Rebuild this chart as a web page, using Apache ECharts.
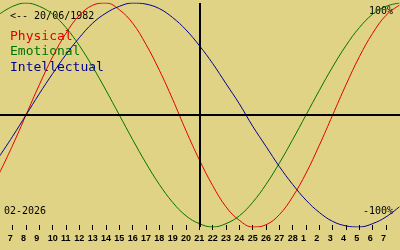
<!DOCTYPE html>
<html><head><meta charset="utf-8">
<script src="https://cdn.jsdelivr.net/npm/echarts@6/dist/echarts.min.js"></script>
<style>html,body{margin:0;padding:0;background:#e1d385}#c{width:400px;height:250px}</style>
</head><body><div id="c"></div>
<script>
// day index: 0 = 7 Feb 2026; series run from 6 Feb (-1) to 8 Mar (29)
const firstDay = -1;
const physical =     [-0.52,-0.27,0.00,0.27,0.52,0.73,0.89,0.98,1.00,0.94,0.82,0.63,0.40,0.14,-0.14,-0.40,-0.63,-0.82,-0.94,-1.00,-0.98,-0.89,-0.73,-0.52,-0.27,0.00,0.27,0.52,0.73,0.89,0.98];
const emotional =    [0.90,0.97,1.00,0.97,0.90,0.78,0.62,0.43,0.22,0.00,-0.22,-0.43,-0.62,-0.78,-0.90,-0.97,-1.00,-0.97,-0.90,-0.78,-0.62,-0.43,-0.22,0.00,0.22,0.43,0.62,0.78,0.90,0.97,1.00];
const intellectual = [-0.37,-0.19,0.00,0.19,0.37,0.54,0.69,0.82,0.91,0.97,1.00,0.99,0.95,0.87,0.76,0.62,0.46,0.28,0.10,-0.10,-0.28,-0.46,-0.62,-0.76,-0.87,-0.95,-0.99,-1.00,-0.97,-0.91,-0.82];
const tickLabels = ['7','8','9','10','11','12','13','14','15','16','17','18','19','20','21','22','23','24','25','26','27','28','1','2','3','4','5','6','7'];
const todayIndex = 14;
const birthText = '<-- 20/06/1982';
const monthText = '02-2026';
const legendNames = ['Physical','Emotional','Intellectual'];
const colors = ['#e00000','#007400','#000090'];

const tickValues = tickLabels.map((_, i) => i);
const toData = arr => arr.map((v, i) => [firstDay + i, v]);
const mono = '"DejaVu Sans Mono", monospace';

const chart = echarts.init(document.getElementById('c'), null, {renderer:'canvas'});
chart.setOption({
  backgroundColor: '#e1d385',
  animation: false,
  grid: {left: 0, right: 0, top: 3, bottom: 23},
  xAxis: [{
    type: 'value', min: -0.95, max: 29.05, offset: -2, position: 'bottom',
    axisLine: {show: false, onZero: false}, splitLine: {show: false},
    axisTick: {show: true, length: 5, customValues: tickValues, lineStyle: {color: '#000', width: 1}},
    axisLabel: {show: false}
  }, {
    type: 'value', min: -0.575, max: 29.425, position: 'bottom', offset: -2,
    axisLine: {show: false, onZero: false}, splitLine: {show: false}, axisTick: {show: false},
    axisLabel: {show: true, customValues: tickValues, align: 'left', verticalAlign: 'top', margin: 9,
      fontFamily: '"Liberation Sans", sans-serif', fontWeight: 'bold', fontSize: 9, color: '#000',
      formatter: v => tickLabels[Math.round(v)] || ''}
  }],
  yAxis: {type: 'value', min: -1, max: 1, show: false},
  series: [
    {name: legendNames[0], type: 'line', data: toData(physical), smooth: 0.4, symbol: 'none',
      lineStyle: {color: colors[0], width: 1},
      markLine: {silent: true, symbol: 'none', label: {show: false},
        lineStyle: {color: '#000', width: 2, type: 'solid'},
        data: [{yAxis: 0}, {xAxis: todayIndex}]}},
    {name: legendNames[1], type: 'line', data: toData(emotional), smooth: 0.4, symbol: 'none',
      lineStyle: {color: colors[1], width: 1}},
    {name: legendNames[2], type: 'line', data: toData(intellectual), smooth: 0.4, symbol: 'none',
      lineStyle: {color: colors[2], width: 1}}
  ],
  graphic: [
    {type: 'text', left: 10, top: 11, style: {text: birthText, font: '10px ' + mono, fill: '#000'}},
    {type: 'text', left: 10, top: 30, style: {text: legendNames[0], font: '13px ' + mono, fill: colors[0]}},
    {type: 'text', left: 10, top: 45.5, style: {text: legendNames[1], font: '13px ' + mono, fill: colors[1]}},
    {type: 'text', left: 10, top: 61, style: {text: legendNames[2], font: '13px ' + mono, fill: colors[2]}},
    {type: 'text', right: 7, top: 6, style: {text: '100%', font: '10px ' + mono, fill: '#000'}},
    {type: 'text', right: 7, top: 206, style: {text: '-100%', font: '10px ' + mono, fill: '#000'}},
    {type: 'text', left: 4, top: 206, style: {text: monthText, font: '10px ' + mono, fill: '#000'}}
  ]
});
</script></body></html>
